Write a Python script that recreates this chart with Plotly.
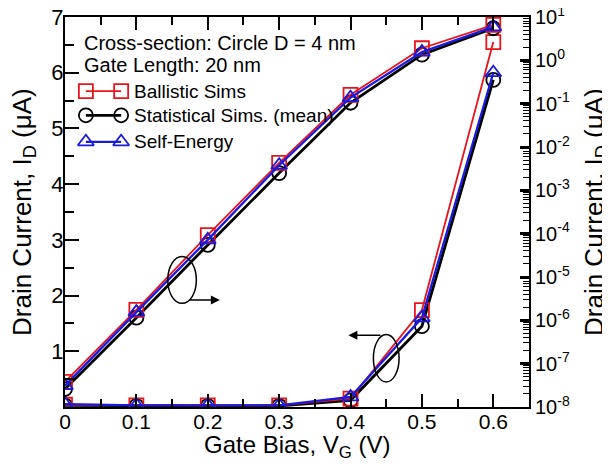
import plotly.graph_objects as go

vg = [0.0, 0.1, 0.2, 0.3, 0.4, 0.5, 0.6]

# Linear-scale currents (uA), left axis
lin_ballistic = [0.04, 0.03, 0.03, 0.03, 0.15, 1.74, 6.55]
lin_stat = [0.03, 0.02, 0.02, 0.02, 0.12, 1.45, 5.87]
lin_se = [0.05, 0.03, 0.03, 0.03, 0.18, 1.60, 6.00]

# Log-scale currents (uA), right axis
log_ballistic = [3.8e-8, 1.75e-6, 9.3e-5, 4.3e-3, 0.16, 1.9, 6.6]
log_stat = [2.6e-8, 1.15e-6, 5.5e-5, 2.5e-3, 0.105, 1.35, 5.5]
log_se = [3.1e-8, 1.55e-6, 7.2e-5, 3.8e-3, 0.138, 1.55, 5.9]

series_names = ["Ballistic Sims", "Statistical Sims. (mean)", "Self-Energy"]
series_colors = ["#e8141c", "#000000", "#1a1adc"]
series_symbols = ["square-open", "circle-open", "triangle-up-open"]
series_widths = [1.8, 2.8, 2.3]
lin_data = [lin_ballistic, lin_stat, lin_se]
log_data = [log_ballistic, log_stat, log_se]

x_ticktext = ["0", "0.1", "0.2", "0.3", "0.4", "0.5", "0.6"]
left_ticks = [1, 2, 3, 4, 5, 6, 7]
right_ticks = [1e-8, 1e-7, 1e-6, 1e-5, 1e-4, 1e-3, 1e-2, 1e-1, 1e0, 1e1]
right_text = ["10<sup>-8</sup>", "10<sup>-7</sup>", "10<sup>-6</sup>", "10<sup>-5</sup>",
              "10<sup>-4</sup>", "10<sup>-3</sup>", "10<sup>-2</sup>", "10<sup>-1</sup>",
              "10<sup>0</sup>", "10<sup>1</sup>"]
right_minor = [m * 10.0 ** e for e in range(-8, 1) for m in range(2, 10)]

fig = go.Figure()

def style(i):
    c = series_colors[i]
    return dict(line=dict(color=c, width=series_widths[i]),
                marker=dict(symbol=series_symbols[i], size=14, color=c,
                            line=dict(width=1.8, color=c)))

for i in [1, 0, 2]:
    fig.add_trace(go.Scatter(x=vg, y=log_data[i], xaxis="x", yaxis="y2", mode="lines+markers",
                             name=series_names[i], showlegend=False, **style(i)))
for i in [1, 0, 2]:
    fig.add_trace(go.Scatter(x=vg, y=lin_data[i], xaxis="x", yaxis="y", mode="lines+markers",
                             name=series_names[i], showlegend=False, **style(i)))

# Custom legend keys (marker - line - marker), on hidden unit axes
legend_rows = [0.810, 0.748, 0.680]
key_x = [0.045, 0.121]
for i in range(3):
    fig.add_trace(go.Scatter(x=key_x, y=[legend_rows[i]] * 2, xaxis="x2", yaxis="y3",
                             mode="lines+markers", showlegend=False, hoverinfo="skip", **style(i)))
    fig.add_annotation(x=0.145, y=legend_rows[i], xref="paper", yref="paper",
                       xanchor="left", yanchor="middle", text=series_names[i],
                       showarrow=False, font=dict(size=19))

font_family = "Liberation Sans, Arial, sans-serif"
tick_style = dict(tickcolor="black", showgrid=False, zeroline=False, automargin=False,
                  ticklabeloverflow="allow")

# The page body has an 8 px margin, so the figure is sized to fit the window.
fig.update_layout(
    width=602, height=456,
    margin=dict(l=57, r=81, t=9, b=57),
    paper_bgcolor="white", plot_bgcolor="white",
    font=dict(family=font_family, color="black", size=18),
    showlegend=False,
    xaxis=dict(range=[0, 0.65], tickvals=vg, ticktext=x_ticktext,
               ticks="inside", ticklen=13, tickwidth=1.8, ticklabelstandoff=-5,
               minor=dict(ticks="inside", ticklen=8, tickwidth=1.8, tickcolor="black",
                          dtick=0.05, tick0=0),
               showline=True, linecolor="black", linewidth=2, mirror="ticks",
               tickfont=dict(size=21), **tick_style),
    yaxis=dict(range=[0, 7], tickvals=left_ticks,
               ticks="inside", ticklen=14, tickwidth=1.8, ticklabelstandoff=-5,
               minor=dict(ticks="inside", ticklen=9, tickwidth=1.8, tickcolor="black",
                          dtick=0.5, tick0=0),
               showline=True, linecolor="black", linewidth=2,
               tickfont=dict(size=22), **tick_style),
    yaxis2=dict(type="log", range=[-8, 1], overlaying="y", side="right",
                tickvals=right_ticks, ticktext=right_text,
                ticks="inside", ticklen=9, tickwidth=2.5,
                minor=dict(ticks="inside", ticklen=6, tickwidth=1.2, tickcolor="black",
                           tickmode="array", tickvals=right_minor),
                showline=True, linecolor="black", linewidth=2,
                tickfont=dict(size=20), **tick_style),
    xaxis2=dict(range=[0, 1], overlaying="x", visible=False, fixedrange=True),
    yaxis3=dict(range=[0, 1], overlaying="y", visible=False, fixedrange=True),
)

# Axis titles
fig.add_annotation(x=0, y=0.5, xref="paper", yref="paper", xshift=-42, textangle=-90,
                   xanchor="center", yanchor="middle",
                   text="Drain Current, I<sub>D</sub> (\u03bcA)", showarrow=False,
                   font=dict(size=26))
fig.add_annotation(x=1, y=0.5, xref="paper", yref="paper", xshift=66, textangle=-90,
                   xanchor="center", yanchor="middle",
                   text="Drain Current, I<sub>D</sub> (\u03bcA)", showarrow=False,
                   font=dict(size=26))
fig.add_annotation(x=0.5, y=0, xref="paper", yref="paper", yshift=-39,
                   xanchor="center", yanchor="middle",
                   text="Gate Bias, V<sub>G</sub> (V)", showarrow=False,
                   font=dict(size=24))

fig.add_annotation(x=0.037, y=0.933, xref="paper", yref="paper", xanchor="left", yanchor="middle",
                   text="Cross-section: Circle D = 4 nm", showarrow=False, font=dict(size=20))
fig.add_annotation(x=0.037, y=0.877, xref="paper", yref="paper", xanchor="left", yanchor="middle",
                   text="Gate Length: 20 nm", showarrow=False, font=dict(size=20))

# Ellipses indicating which axis each curve family uses
fig.add_shape(type="circle", xref="x", yref="y", x0=0.144, x1=0.184, y0=1.86, y1=2.70,
              line=dict(color="black", width=1.5))
fig.add_annotation(x=0.217, y=1.92, ax=0.172, ay=1.92, xref="x", yref="y", axref="x", ayref="y",
                   text="", showarrow=True, arrowhead=2, arrowsize=1.2, arrowwidth=1.5,
                   arrowcolor="black")
fig.add_shape(type="circle", xref="x", yref="y", x0=0.432, x1=0.468, y0=0.45, y1=1.30,
              line=dict(color="black", width=1.5))
fig.add_annotation(x=0.397, y=1.29, ax=0.444, ay=1.29, xref="x", yref="y", axref="x", ayref="y",
                   text="", showarrow=True, arrowhead=2, arrowsize=1.2, arrowwidth=1.5,
                   arrowcolor="black")

fig.write_html("out.html")
